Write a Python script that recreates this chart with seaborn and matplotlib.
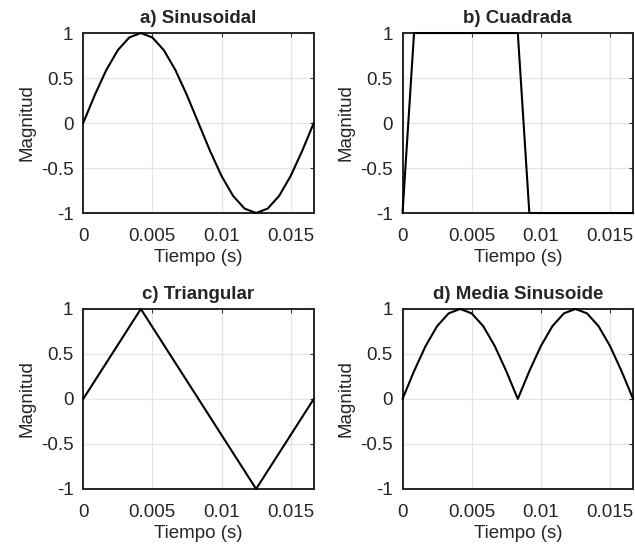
"""Cuatro formas de onda muestreadas (estilo MATLAB subplot 2x2)."""

import matplotlib as mpl
mpl.use("Agg")
import matplotlib.pyplot as plt
import pandas as pd
import seaborn as sns

# tiempo: 21 muestras en un periodo de 60 Hz
tiempo = [0.0, 0.000833, 0.001667, 0.0025, 0.003333, 0.004167, 0.005, 0.005833,
          0.006667, 0.0075, 0.008333, 0.009167, 0.01, 0.010833, 0.011667, 0.0125,
          0.013333, 0.014167, 0.015, 0.015833, 0.016667]

sinusoidal = [0.0, 0.309, 0.588, 0.809, 0.951, 1.0, 0.951, 0.809, 0.588, 0.309, 0.0,
              -0.309, -0.588, -0.809, -0.951, -1.0, -0.951, -0.809, -0.588, -0.309, 0.0]

cuadrada = [-1, 1, 1, 1, 1, 1, 1, 1, 1, 1, 1,
            -1, -1, -1, -1, -1, -1, -1, -1, -1, -1]

triangular = [0.0, 0.2, 0.4, 0.6, 0.8, 1.0, 0.8, 0.6, 0.4, 0.2, 0.0,
              -0.2, -0.4, -0.6, -0.8, -1.0, -0.8, -0.6, -0.4, -0.2, 0.0]

media_sinusoide = [0.0, 0.309, 0.588, 0.809, 0.951, 1.0, 0.951, 0.809, 0.588, 0.309, 0.0,
                   0.309, 0.588, 0.809, 0.951, 1.0, 0.951, 0.809, 0.588, 0.309, 0.0]

titulos = ["a) Sinusoidal", "b) Cuadrada", "c) Triangular", "d) Media Sinusoide"]
senales = [sinusoidal, cuadrada, triangular, media_sinusoide]

x_ticks = [0, 0.005, 0.01, 0.015]
x_ticklabels = ["0", "0.005", "0.01", "0.015"]
y_ticks = [-1, -0.5, 0, 0.5, 1]
y_ticklabels = ["-1", "-0.5", "0", "0.5", "1"]

sns.set_theme(style="white")
mpl.rcParams.update({
    "font.family": ["Liberation Sans", "DejaVu Sans"],
    "xtick.direction": "in",
    "ytick.direction": "in",
    "xtick.top": True,
    "ytick.right": True,
})

fig, axes = plt.subplots(2, 2, figsize=(6.35, 5.55), dpi=100)
fig.subplots_adjust(left=0.131, right=0.997, top=0.9405, bottom=0.119,
                    wspace=0.385, hspace=0.533)

for ax, titulo, y in zip(axes.flat, titulos, senales):
    df = pd.DataFrame({"t": tiempo, "y": y})
    sns.lineplot(data=df, x="t", y="y", ax=ax, color="black", linewidth=1.5,
                 estimator=None, sort=False, clip_on=False, zorder=3)
    ax.set_xlim(0, 1 / 60)
    ax.set_ylim(-1, 1)
    ax.set_xticks(x_ticks)
    ax.set_xticklabels(x_ticklabels)
    ax.set_yticks(y_ticks)
    ax.set_yticklabels(y_ticklabels)
    ax.grid(True, color="#e4e4e4", linewidth=0.9)
    ax.set_axisbelow(True)
    ax.tick_params(labelsize=13.5, length=3, width=0.8, color="#333333",
                   labelcolor="#262626")
    ax.tick_params(axis="x", pad=11)
    ax.tick_params(axis="y", pad=7)
    ax.set_title(titulo, fontsize=13.5, fontweight="bold", pad=7)
    ax.set_xlabel("Tiempo (s)", fontsize=13.5, labelpad=3, color="#262626")
    ax.set_ylabel("Magnitud", fontsize=13.5, labelpad=4, color="#262626")
    for spine in ax.spines.values():
        spine.set_visible(True)
        spine.set_color("#262626")
        spine.set_linewidth(1.4)

fig.savefig("out.png", dpi=100)
